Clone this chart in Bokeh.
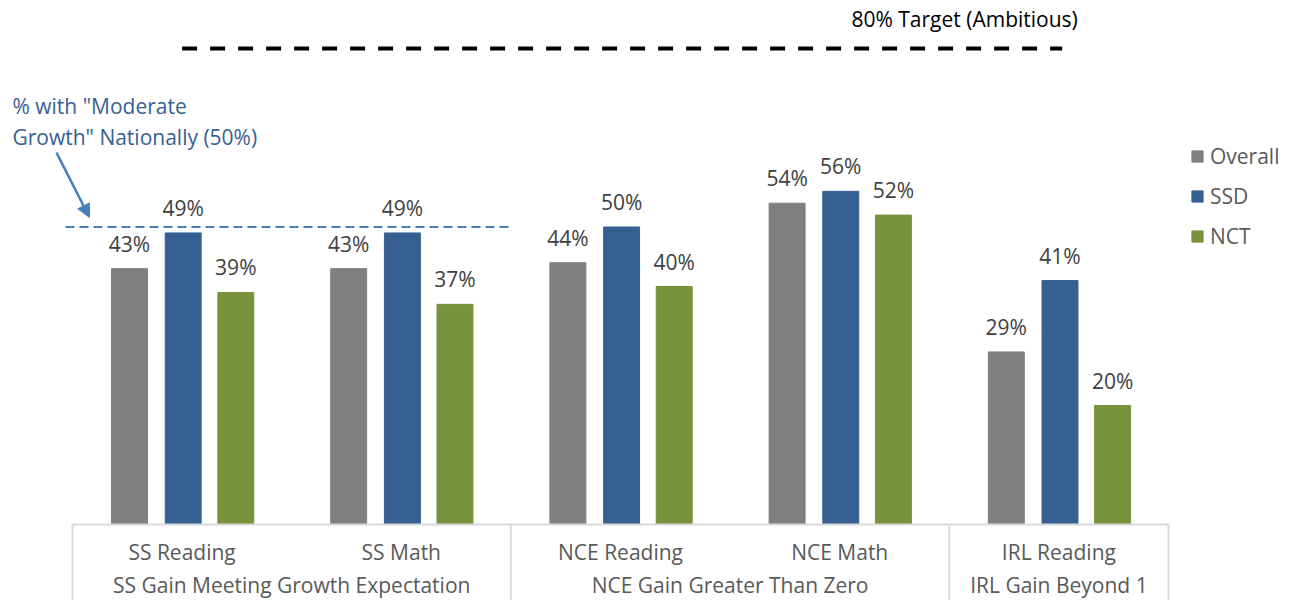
from bokeh.plotting import figure
from bokeh.models import (Range1d, LinearAxis, FixedTicker, Legend, LegendItem,
                          ColumnDataSource, Arrow, NormalHead, Label)
from bokeh.embed import file_html
from bokeh.resources import INLINE
from bokeh.core.properties import value

# ---------------- data ----------------
categories = ["SS Reading", "SS Math", "NCE Reading", "NCE Math", "IRL Reading"]
groups = ["SS Gain Meeting Growth Expectation", "NCE Gain Greater Than Zero", "IRL Gain Beyond 1"]
group_sizes = [2, 2, 1]
series = ["Overall", "SSD", "NCT"]
overall = [43, 43, 44, 54, 29]
ssd = [49, 49, 50, 56, 41]
nct = [39, 37, 40, 52, 20]
target_ambitious = 80
national_moderate = 50
# ---------------------------------------

FONT = "Open Sans"
FS = "21px"
TXT = "#595959"
colors = ["#7F7F7F", "#366092", "#77933C"]

PX_PER_CAT = 219.2
PX_PER_PCT = 5.95
W, H = 1279, 600
AX_X = 72      # screen x of category 0 start
AX_Y = 524     # screen y of value 0

p = figure(width=W, height=H, output_backend="svg", toolbar_location=None,
           x_axis_type=None, y_axis_type=None,
           x_range=Range1d(-AX_X / PX_PER_CAT, (W - AX_X) / PX_PER_CAT),
           y_range=Range1d(-(H - AX_Y) / PX_PER_PCT, AX_Y / PX_PER_PCT),
           min_border=0, outline_line_color=None)
p.xgrid.visible = False
p.ygrid.visible = False

n = len(categories)
centers = [i + 0.5 for i in range(n)]
offsets = [-0.24, 0.005, 0.245]
bar_w = 0.164

renderers = []
for vals, off, col, name in zip([overall, ssd, nct], offsets, colors, series):
    xs = [c + off for c in centers]
    src = ColumnDataSource(dict(x=xs, top=vals, lab=[f"{v}%" for v in vals]))
    r = p.vbar(x="x", top="top", width=bar_w, bottom=0, source=src,
               fill_color=col, line_color=col)
    renderers.append(r)
    p.text(x="x", y="top", text="lab", source=src, text_align="center",
           text_baseline="alphabetic", y_offset=-25, text_font=value(FONT),
           text_font_size=FS, text_color="#404040")

# group boundaries
bounds = [0]
for s in group_sizes:
    bounds.append(bounds[-1] + s)
group_centers = [(bounds[i] + bounds[i + 1]) / 2 for i in range(len(groups))]

ymin = -(H - AX_Y) / PX_PER_PCT
p.segment(x0=bounds, y0=[0] * len(bounds), x1=bounds, y1=[ymin] * len(bounds),
          line_color="#D9D9D9", line_width=2)

# category axis
ax1 = LinearAxis(ticker=FixedTicker(ticks=centers, minor_ticks=[]),
                 major_label_overrides={c: lab for c, lab in zip(centers, categories)},
                 fixed_location=0, bounds=(0, n),
                 axis_line_color="#D9D9D9", axis_line_width=2,
                 major_tick_line_color=None, minor_tick_line_color=None,
                 major_label_standoff=7,
                 major_label_text_font=FONT, major_label_text_font_size=FS,
                 major_label_text_color=TXT)
ax2 = LinearAxis(ticker=FixedTicker(ticks=group_centers, minor_ticks=[]),
                 major_label_overrides={c: lab for c, lab in zip(group_centers, groups)},
                 fixed_location=0, bounds=(0, n),
                 axis_line_color=None,
                 major_tick_line_color=None, minor_tick_line_color=None,
                 major_label_standoff=40,
                 major_label_text_font=FONT, major_label_text_font_size=FS,
                 major_label_text_color=TXT)
p.add_layout(ax1, "below")
p.add_layout(ax2, "below")

# reference lines
p.line(x=[0.5, 4.515], y=[target_ambitious] * 2, line_color="black", line_width=4,
       line_dash="15 13")
p.line(x=[-0.032, 2.0], y=[national_moderate] * 2, line_color="#4A7EBB", line_width=2.2,
       line_dash="9 5")

p.add_layout(Label(x=4.07, y=85.0, text="80% Target (Ambitious)", text_align="center",
                   text_baseline="middle", text_font=FONT, text_font_size=FS,
                   text_color="black"))
p.add_layout(Label(x=-0.274, y=70.4, text='% with "Moderate', text_align="left",
                   text_baseline="middle", text_font=FONT, text_font_size=FS,
                   text_color="#376092"))
p.add_layout(Label(x=-0.274, y=65.2, text='Growth" Nationally (50%)', text_align="left",
                   text_baseline="middle", text_font=FONT, text_font_size=FS,
                   text_color="#376092"))
p.add_layout(Arrow(end=NormalHead(size=13, fill_color="#4A7EBB", line_color="#4A7EBB"),
                   x_start=-0.073, y_start=62.5, x_end=0.0776, y_end=51.6,
                   line_color="#4A7EBB", line_width=2.5))

legend = Legend(items=[LegendItem(label=s, renderers=[r]) for s, r in zip(series, renderers)],
                location=(1190, 350), orientation="vertical",
                glyph_width=14, glyph_height=14, label_height=20, spacing=12,
                label_standoff=6, padding=0, margin=0,
                border_line_color=None, background_fill_alpha=0,
                label_text_font=FONT, label_text_font_size=FS, label_text_color=TXT)
p.add_layout(legend)

open("out.html", "w").write(file_html(p, INLINE))
